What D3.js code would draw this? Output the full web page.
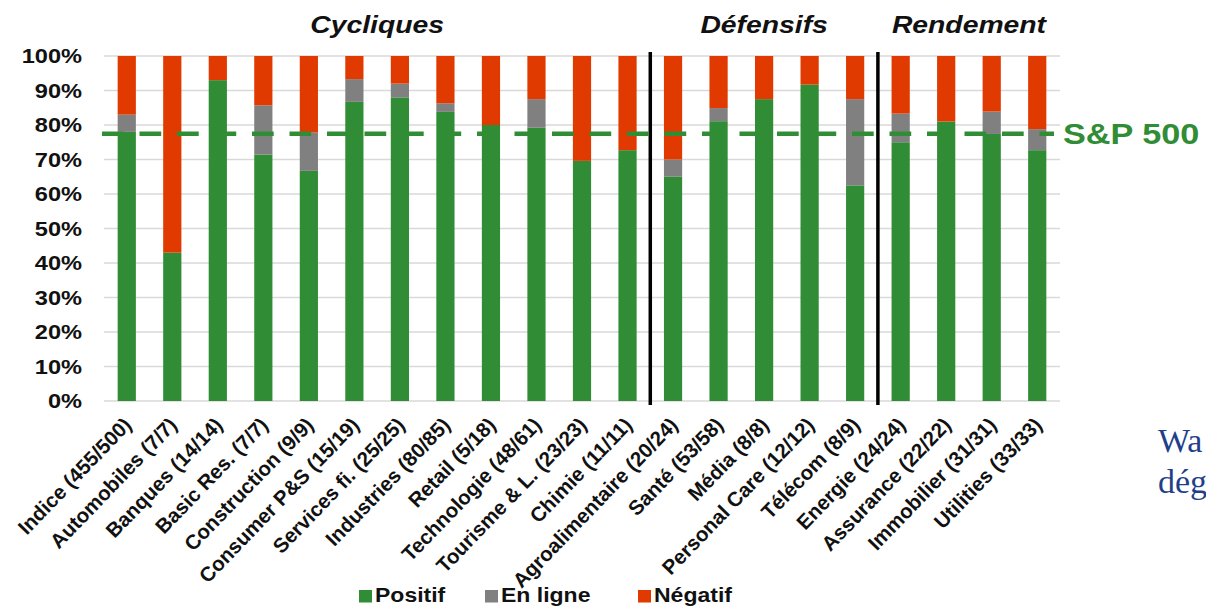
<!DOCTYPE html>
<html lang="fr">
<head>
<meta charset="utf-8">
<script src="https://cdn.jsdelivr.net/npm/d3@7"></script>
<style>
  html, body { margin: 0; padding: 0; background: #fff; overflow: hidden; }
  svg { display: block; }
</style>
</head>
<body>
<svg id="chart" width="1206" height="607"></svg>
<script>
// Secteurs et nombre de sociétés ayant publié
const categories = [
  "Indice (455/500)", "Automobiles (7/7)", "Banques (14/14)", "Basic Res. (7/7)",
  "Construction (9/9)", "Consumer P&S (15/19)", "Services fi. (25/25)", "Industries (80/85)",
  "Retail (5/18)", "Technologie (48/61)", "Tourisme & L. (23/23)", "Chimie (11/11)",
  "Agroalimentaire (20/24)", "Santé (53/58)", "Média (8/8)", "Personal Care (12/12)",
  "Télécom (8/9)", "Energie (24/24)", "Assurance (22/22)", "Immobilier (31/31)",
  "Utilities (33/33)"
];

// Part des publications (en %)
const positif = [78, 43, 93, 71.4, 66.7, 86.7, 88, 83.8, 80, 79.2, 69.6, 72.7,
                 65, 81.1, 87.5, 91.7, 62.5, 75, 81, 77.4, 72.7];
const enLigne = [5, 0, 0, 14.3, 11.1, 6.6, 4, 2.5, 0, 8.3, 0, 0,
                 5, 3.8, 0, 0, 25, 8.3, 0, 6.5, 6.1];
const negatif = [17, 57, 7, 14.3, 22.2, 6.7, 8, 13.7, 20, 12.5, 30.4, 27.3,
                 30, 15.1, 12.5, 8.3, 12.5, 16.7, 19, 16.1, 21.2];

const seriesNames = ["Positif", "En ligne", "Négatif"];
const seriesColors = ["#318d35", "#808080", "#e03a00"];

// Groupes de secteurs (index du premier et du dernier secteur)
const groupNames = ["Cycliques", "Défensifs", "Rendement"];
const groupFirst = [0, 12, 17];
const groupLast = [11, 16, 20];

const yTicks = [0, 10, 20, 30, 40, 50, 60, 70, 80, 90, 100];
const sp500 = 77.5;
const sideLines = ["Wa", "dég"];

const FONT = "Arial, 'Liberation Sans', sans-serif";
const SX = 1.18; // horizontal stretch applied to the chart lettering

const svg = d3.select("#chart");

const x = d3.scaleBand()
  .domain(categories)
  .range([104, 1060])
  .paddingInner(0.6)
  .paddingOuter(0.3);

const y = d3.scaleLinear().domain([0, 100]).range([401, 56]);

// Gridlines
svg.append("g")
  .selectAll("line")
  .data(yTicks)
  .join("line")
  .attr("x1", 104).attr("x2", 1060)
  .attr("y1", d => y(d)).attr("y2", d => y(d))
  .attr("stroke", "#d9d9d9")
  .attr("stroke-width", 1.5);

// Y tick labels
svg.append("g")
  .selectAll("text")
  .data(yTicks)
  .join("text")
  .attr("transform", d => `translate(82,${y(d) + 7}) scale(${SX},1)`)
  .attr("text-anchor", "end")
  .attr("font-family", FONT)
  .attr("font-weight", "bold")
  .attr("font-size", 20)
  .attr("fill", "#111")
  .text(d => d + "%");

// Stacked bars
const rows = categories.map((c, i) => ({
  cat: c, Positif: positif[i], "En ligne": enLigne[i], "Négatif": negatif[i]
}));
const stack = d3.stack().keys(seriesNames)(rows);

svg.append("g")
  .selectAll("g")
  .data(stack)
  .join("g")
  .attr("fill", (d, i) => seriesColors[i])
  .selectAll("rect")
  .data(d => d)
  .join("rect")
  .attr("x", d => x(d.data.cat))
  .attr("width", x.bandwidth())
  .attr("y", d => y(d[1]))
  .attr("height", d => Math.max(0, y(d[0]) - y(d[1])));

// Group separators
const sepX = [groupLast[0], groupLast[1]].map(i =>
  (x(categories[i]) + x.bandwidth() + x(categories[i + 1])) / 2);
svg.append("g")
  .selectAll("line")
  .data(sepX)
  .join("line")
  .attr("x1", d => d).attr("x2", d => d)
  .attr("y1", 52).attr("y2", 405)
  .attr("stroke", "#000")
  .attr("stroke-width", 3.5);

// S&P 500 reference line
svg.append("line")
  .attr("x1", 102).attr("x2", 1054)
  .attr("y1", y(sp500)).attr("y2", y(sp500))
  .attr("stroke", "#318d35")
  .attr("stroke-width", 4.5)
  .attr("stroke-dasharray", "21.7,15.8");

svg.append("text")
  .attr("transform", `translate(1063,${y(sp500) + 10.5}) scale(${SX},1)`)
  .attr("font-family", FONT)
  .attr("font-weight", "bold")
  .attr("font-size", 29)
  .attr("fill", "#318d35")
  .text("S&P 500");

// Group titles
svg.append("g")
  .selectAll("text")
  .data(groupNames)
  .join("text")
  .attr("transform", (d, i) => {
    const a = x(categories[groupFirst[i]]);
    const b = x(categories[groupLast[i]]) + x.bandwidth();
    return `translate(${(a + b) / 2},33) scale(${SX},1)`;
  })
  .attr("text-anchor", "middle")
  .attr("font-family", FONT)
  .attr("font-weight", "bold")
  .attr("font-style", "italic")
  .attr("font-size", 24)
  .attr("fill", "#111")
  .text(d => d);

// Category labels
svg.append("g")
  .selectAll("text")
  .data(categories)
  .join("text")
  .attr("transform", d =>
    `translate(${x(d) + x.bandwidth() / 2 + 6},426) rotate(-46)`)
  .attr("text-anchor", "end")
  .attr("font-family", FONT)
  .attr("font-weight", "bold")
  .attr("font-size", 20.5)
  .attr("fill", "#111")
  .text(d => d);

// Legend
const legendX = [359, 485, 638];
const legend = svg.append("g")
  .selectAll("g")
  .data(seriesNames)
  .join("g")
  .attr("transform", (d, i) => `translate(${legendX[i]},0)`);
legend.append("rect")
  .attr("x", 0).attr("y", 590)
  .attr("width", 13).attr("height", 12.5)
  .attr("fill", (d, i) => seriesColors[i]);
legend.append("text")
  .attr("transform", `translate(16,601.5) scale(${SX},1)`)
  .attr("font-family", FONT)
  .attr("font-weight", "bold")
  .attr("font-size", 19.5)
  .attr("fill", "#111")
  .text(d => d);

// Side text running off the page
svg.append("g")
  .selectAll("text")
  .data(sideLines)
  .join("text")
  .attr("x", 1158)
  .attr("y", (d, i) => 452 + i * 41)
  .attr("font-family", "'Liberation Serif', 'DejaVu Serif', serif")
  .attr("font-size", 34)
  .attr("fill", "#1f3f8a")
  .text(d => d);
</script>
</body>
</html>
